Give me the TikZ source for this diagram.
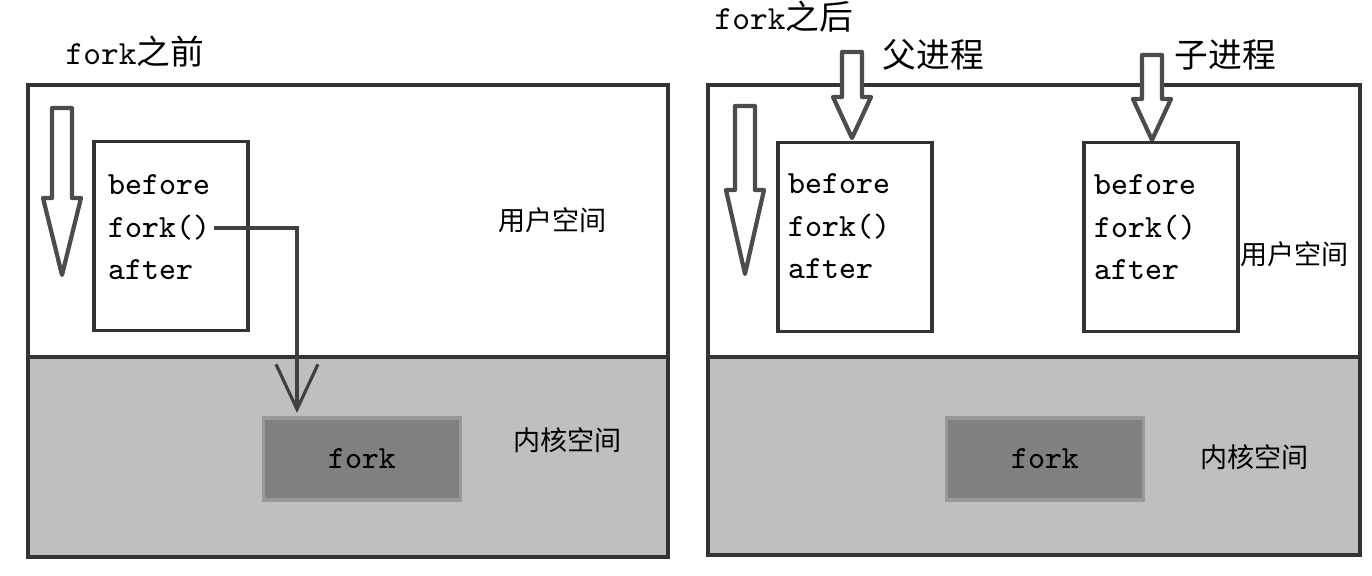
\documentclass[tikz,border=0pt]{standalone}
\usepackage{fontspec}
\newfontfamily\cjk{Noto Sans CJK SC}
\usepackage{tikz}
\usetikzlibrary{arrows.meta, positioning}

\newcommand{\hollowdown}[4]{%
  \draw[hollow] (#1-10,#2) -- (#1+10,#2) -- (#1+10,#3) -- (#1+19,#3)
    -- (#1,#4) -- (#1-19,#3) -- (#1-10,#3) -- cycle;}

\begin{document}
\begin{tikzpicture}[x=0.01cm, y=-0.01cm,
            frame/.style={draw=black!80, line width=1.1pt},
            hollow/.style={draw=black!70, line width=1.2pt, fill=white, line join=round},
            codebox/.style={draw=black!80, line width=1pt, fill=white, minimum width=1.54cm, minimum height=1.89cm},
            code/.style={font=\ttfamily\fontsize{9.2}{11}\selectfont, anchor=west, inner sep=1pt},
            kbox/.style={draw=black!40, line width=1pt, fill=black!50, minimum width=1.97cm, minimum height=0.82cm, font=\ttfamily\fontsize{9.2}{11}\selectfont},
            area/.style={font=\cjk\fontsize{7.7}{9}\selectfont, anchor=west, inner sep=0pt},
            title/.style={font=\fontsize{9.6}{11}\selectfont, anchor=west, inner sep=0pt}]

            \useasboundingbox (0,0) rectangle (1372,576);
            \fill[white] (0,0) rectangle (1372,576);

            % fork之前
            \fill[black!25] (28,357) rectangle (668,557);
            \draw[frame] (28,85) rectangle (668,557);
            \draw[frame] (28,357) -- (668,357);
            \node[title] (pre) at (65,52) {{\ttfamily fork}{\cjk 之前}};
            \hollowdown{62}{108}{198}{275}
            \node[codebox] (code1) at (171,236) {};
            \node[code] (b1) at (104,185) {before};
            \node[code] (f1) at (104,228) {fork()};
            \node[code] (a1) at (104,270) {after};
            \node[area] (user1) at (498,220) {用户空间};
            \node[kbox] (kfork1) at (362,459) {fork};
            \node[area] (kern1) at (513,440) {内核空间};
            \coordinate (drop1) at (297,413);
            \draw[-{Straight Barb[length=0.45cm, width=0.42cm]}, draw=black!75, line width=0.9pt] (f1.east) -| (drop1);

            % fork之后
            \fill[black!25] (708,357) rectangle (1360,555);
            \draw[frame] (708,85) rectangle (1360,555);
            \draw[frame] (708,357) -- (1360,357);
            \node[title] (post) at (714,17) {{\ttfamily fork}{\cjk 之后}};
            \hollowdown{745}{106}{190}{274}
            \hollowdown{852}{52}{97}{138}
            \hollowdown{1152}{55}{99}{140}
            \node[title] (par) at (882,55) {\cjk 父进程};
            \node[title] (chi) at (1174,55) {\cjk 子进程};
            \node[codebox] (code2) at (855,237) {};
            \node[codebox] (code3) at (1161,237) {};
            \node[code] (b2) at (784,184) {before};
            \node[code] (f2) at (784,227) {fork()};
            \node[code] (a2) at (784,269) {after};
            \node[code] (b3) at (1090,185) {before};
            \node[code] (f3) at (1090,228) {fork()};
            \node[code] (a3) at (1090,270) {after};
            \node[area] (user2) at (1240,254) {用户空间};
            \node[kbox] (kfork2) at (1045,459) {fork};
            \node[area] (kern2) at (1200,457) {内核空间};
        \end{tikzpicture}
\end{document}
